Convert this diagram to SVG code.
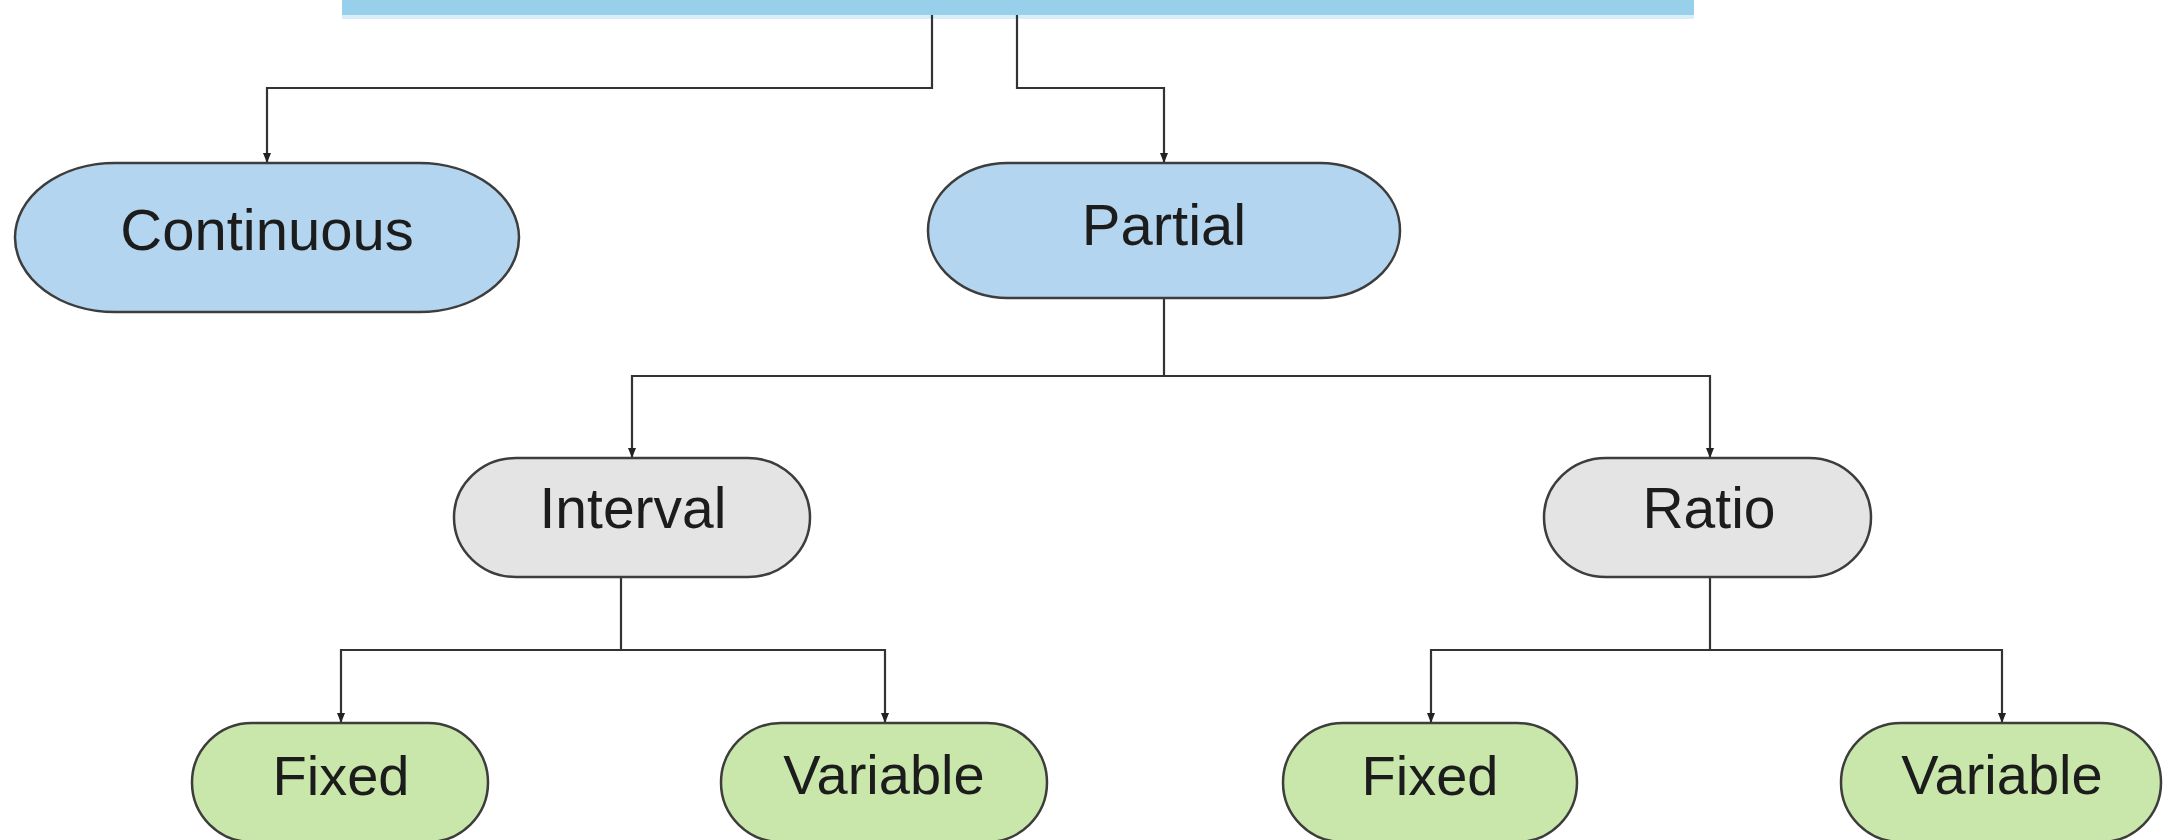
<svg xmlns="http://www.w3.org/2000/svg" width="2164" height="840" viewBox="0 0 2164 840">
<style>
.node{stroke:#3d3d3d;stroke-width:2.5}
.blue{fill:#b3d5ef}
.gray{fill:#e4e4e4}
.green{fill:#c9e7aa}
.lbl{font-family:"Liberation Sans",Arial,sans-serif;fill:#1c1c1c;text-anchor:middle}
.conn{fill:none;stroke:#333;stroke-width:2.2}
</style>
<defs>
<marker id="arr" viewBox="0 0 10 10" refX="10" refY="5" markerWidth="10" markerHeight="14" markerUnits="userSpaceOnUse" orient="auto">
<path d="M0,1 L10,5 L0,9 Z" fill="#222"/>
</marker>
</defs>
<rect width="2164" height="840" fill="#ffffff"/>
<g id="root">
<rect x="342" y="-20" width="1352" height="35" fill="#98cfea"/>
<rect x="342" y="15" width="1352" height="4" fill="#d8eef8"/>
</g>
<g id="connectors">
<path class="conn" d="M932,15 V88 H267 V163" marker-end="url(#arr)"/>
<path class="conn" d="M1017,15 V88 H1164 V163" marker-end="url(#arr)"/>
<path class="conn" d="M1164,298 V376 H632 V458" marker-end="url(#arr)"/>
<path class="conn" d="M1164,376 H1710 V458" marker-end="url(#arr)"/>
<path class="conn" d="M621,577 V650 H341 V723" marker-end="url(#arr)"/>
<path class="conn" d="M621,650 H885 V723" marker-end="url(#arr)"/>
<path class="conn" d="M1710,577 V650 H1431 V723" marker-end="url(#arr)"/>
<path class="conn" d="M1710,650 H2002 V723" marker-end="url(#arr)"/>
</g>
<g id="continuous">
<rect class="node blue" x="15" y="163" width="504" height="149" rx="100" ry="74.5"/>
<text class="lbl" x="267" y="250" font-size="58">Continuous</text>
</g>
<g id="partial">
<rect class="node blue" x="928" y="163" width="472" height="135" rx="80" ry="67.5"/>
<text class="lbl" x="1164" y="245" font-size="58">Partial</text>
</g>
<g id="interval">
<rect class="node gray" x="454" y="458" width="356" height="119" rx="62" ry="59.5"/>
<text class="lbl" x="633" y="528" font-size="57">Interval</text>
</g>
<g id="ratio">
<rect class="node gray" x="1544" y="458" width="327" height="119" rx="62" ry="59.5"/>
<text class="lbl" x="1709" y="528" font-size="57">Ratio</text>
</g>
<g id="fixed1">
<rect class="node green" x="192" y="723" width="296" height="119" rx="60" ry="59.5"/>
<text class="lbl" x="341" y="795" font-size="56">Fixed</text>
</g>
<g id="variable1">
<rect class="node green" x="721" y="723" width="326" height="119" rx="60" ry="59.5"/>
<text class="lbl" x="884" y="794" font-size="56">Variable</text>
</g>
<g id="fixed2">
<rect class="node green" x="1283" y="723" width="294" height="119" rx="60" ry="59.5"/>
<text class="lbl" x="1430" y="795" font-size="56">Fixed</text>
</g>
<g id="variable2">
<rect class="node green" x="1841" y="723" width="320" height="119" rx="60" ry="59.5"/>
<text class="lbl" x="2002" y="794" font-size="56">Variable</text>
</g>
</svg>
